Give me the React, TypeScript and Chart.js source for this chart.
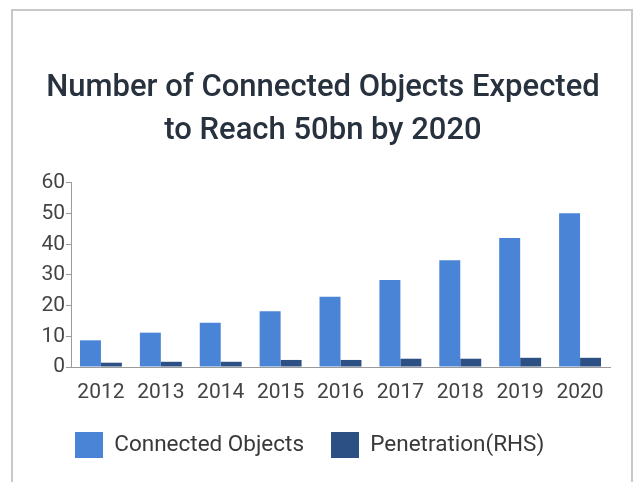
import React, { useEffect, useRef } from "react";
import { Chart, registerables } from "chart.js";

Chart.register(...registerables);

const years = ["2012", "2013", "2014", "2015", "2016", "2017", "2018", "2019", "2020"];
const connectedObjects = [8.7, 11.2, 14.4, 18.2, 22.9, 28.4, 34.8, 42.1, 50.1];
const penetration = [1.4, 1.7, 1.7, 2.3, 2.3, 2.7, 2.7, 3.0, 3.0];
const titleLines = ["Number of Connected Objects Expected", "to Reach 50bn by 2020"];
const seriesNames = ["Connected Objects", "Penetration(RHS)"];

const FONT = "Roboto, 'DejaVu Sans', sans-serif";
const LEGEND_START_X = 75;
const LEGEND_PAD = 27;

const legendOffset = {
  id: "legendOffset",
  afterLayout(chart: any) {
    if (chart.legend) {
      chart.legend.left = LEGEND_START_X - LEGEND_PAD;
    }
  },
};

export default function App() {
  const ref = useRef<HTMLCanvasElement | null>(null);

  useEffect(() => {
    if (!ref.current) return;
    const chart = new Chart(ref.current, {
      type: "bar",
      data: {
        labels: years,
        datasets: [
          {
            label: seriesNames[0],
            data: connectedObjects,
            backgroundColor: "#4a84d6",
            borderWidth: 0,
            barPercentage: 1,
            categoryPercentage: 0.7,
          },
          {
            label: seriesNames[1],
            data: penetration,
            backgroundColor: "#2c4f84",
            borderWidth: 0,
            barPercentage: 1,
            categoryPercentage: 0.7,
          },
        ],
      },
      plugins: [legendOffset],
      options: {
        animation: false,
        responsive: false,
        maintainAspectRatio: false,
        layout: { padding: { left: 36, right: 28, top: 0, bottom: 14 } },
        plugins: {
          tooltip: { enabled: false },
          title: {
            display: true,
            text: titleLines,
            color: "#28323e",
            font: { family: FONT, size: 31, weight: "500", lineHeight: 1.387 },
            padding: { top: 67, bottom: 30 },
          },
          legend: {
            position: "bottom",
            align: "start",
            labels: {
              boxWidth: 28,
              boxHeight: 26,
              padding: LEGEND_PAD,
              color: "#383838",
              font: { family: FONT, size: 22.5 },
            },
          },
        },
        scales: {
          x: {
            afterFit: (s: any) => {
              s.height = 38;
            },
            grid: { display: false, drawTicks: false },
            border: { display: true, color: "#9a9a9a", width: 1 },
            ticks: {
              color: "#444",
              padding: 13,
              maxRotation: 0,
              font: { family: FONT, size: 21 },
            },
          },
          y: {
            min: 0,
            max: 60,
            afterFit: (s: any) => {
              s.width = 35;
            },
            grid: {
              drawOnChartArea: false,
              drawTicks: true,
              tickLength: 5,
              color: "#9a9a9a",
            },
            border: { display: true, color: "#9a9a9a", width: 1 },
            ticks: {
              stepSize: 10,
              color: "#444",
              padding: 1,
              font: { family: FONT, size: 21 },
            },
          },
        },
      },
    });
    return () => chart.destroy();
  }, []);

  return (
    <div
      style={{
        position: "absolute",
        left: 0,
        top: 0,
        width: 638,
        height: 482,
        background: "#ffffff",
        overflow: "hidden",
      }}
    >
      <div
        style={{
          position: "absolute",
          left: 11,
          top: 9,
          width: 622,
          height: 490,
          border: "2px solid #c8c8c8",
          boxSizing: "border-box",
        }}
      />
      <canvas
        ref={ref}
        width={638}
        height={482}
        style={{ position: "absolute", left: 0, top: 0, width: 638, height: 482 }}
      />
    </div>
  );
}
